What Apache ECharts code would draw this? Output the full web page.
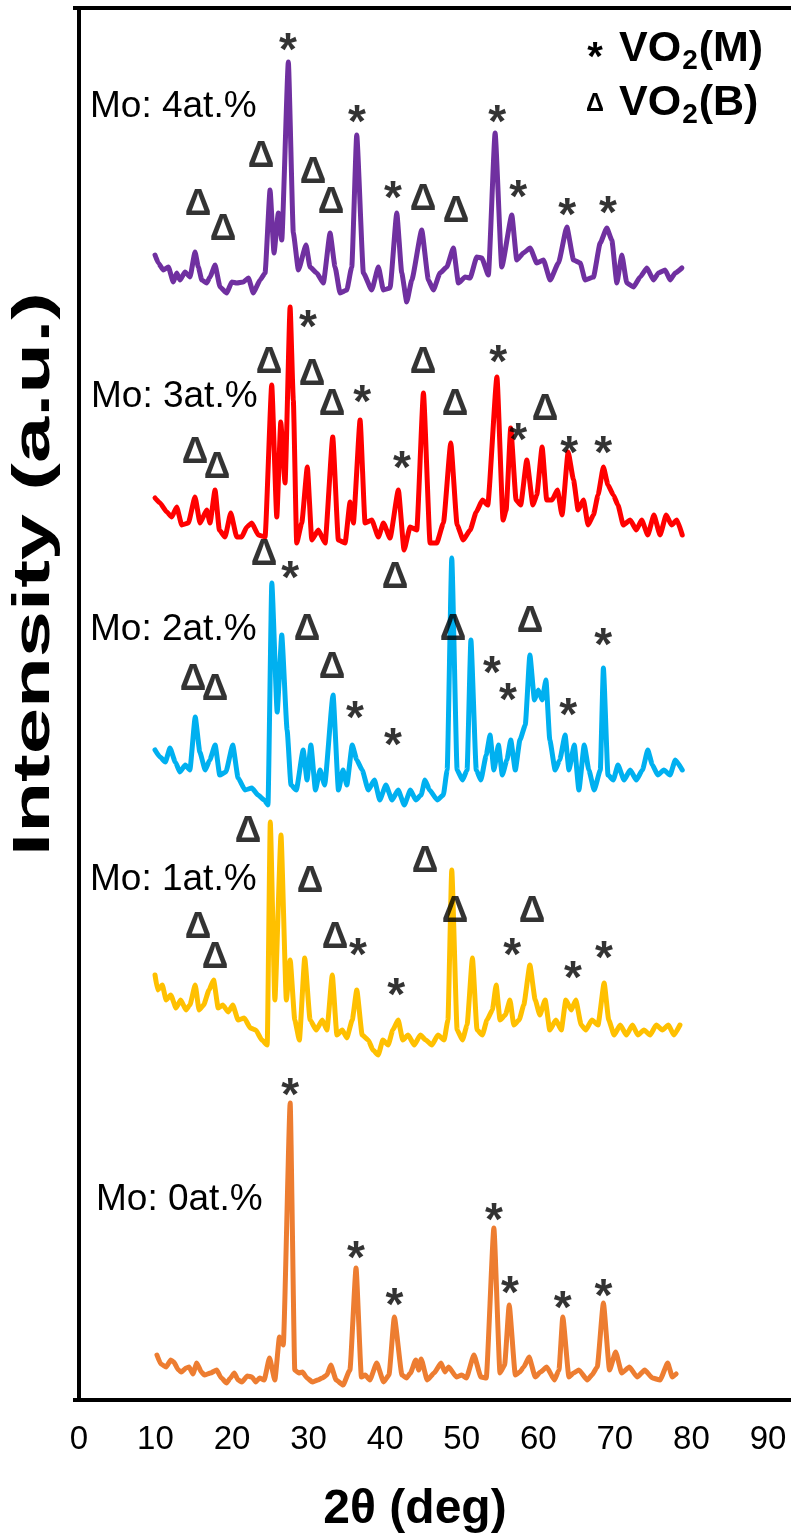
<!DOCTYPE html>
<html>
<head>
<meta charset="utf-8">
<script src="https://cdn.jsdelivr.net/npm/echarts@6/dist/echarts.min.js"></script>
<style>
  html, body { margin: 0; padding: 0; background: #ffffff; }
  #chart { width: 791px; height: 1540px; }
</style>
</head>
<body>
<div id="chart"></div>
<script>
// XRD patterns of Mo-doped VO2 films, stacked with a vertical offset per sample.
// Each pattern: [2θ (deg), intensity above its own baseline (a.u.)]
const mo0 = [[10.2,45],[10.7,36],[11.4,33],[12.0,40],[12.4,38],[13.0,30],[13.4,28],[14.0,32],[14.4,33],[14.9,26],[15.4,37],[16.0,28],[16.4,25],[17.2,27],[18.0,30],[18.6,22],[19.3,17],[19.8,22],[20.3,27],[20.8,20],[21.3,18],[22.0,24],[22.6,23],[23.1,18],[23.6,22],[24.2,20],[24.9,42],[25.6,20],[26.2,63],[26.7,55],[27.6,297],[28.2,30],[28.7,27],[29.2,28],[29.8,22],[30.5,18],[31.2,20],[31.8,22],[32.4,25],[32.9,35],[33.6,20],[34.5,15],[35.4,30],[36.2,132],[36.9,23],[37.4,25],[38.0,20],[38.9,37],[39.8,18],[40.5,25],[41.2,83],[42.2,25],[42.8,22],[43.3,27],[44.0,40],[44.4,30],[44.7,41],[45.5,20],[46.4,27],[47.3,37],[47.8,28],[48.3,33],[49.3,23],[50.0,25],[50.6,22],[51.6,45],[52.5,23],[53.2,22],[54.2,172],[55.0,27],[55.6,35],[56.2,95],[57.0,25],[57.6,28],[58.1,33],[58.8,43],[59.6,23],[60.3,28],[61.1,33],[62.1,20],[62.7,30],[63.2,83],[64.0,23],[64.6,27],[65.3,30],[66.4,20],[67.0,25],[67.7,33],[68.5,97],[69.3,30],[70.1,48],[70.9,27],[71.9,33],[72.9,23],[73.9,30],[74.9,22],[75.9,20],[76.9,37],[77.5,23],[78.0,26]];

const mo1 = [[9.95,75],[10.3,60],[10.9,65],[11.4,50],[12.0,55],[12.7,42],[13.3,50],[14.0,40],[14.5,45],[15.2,65],[15.7,40],[16.3,45],[17.0,60],[17.6,70],[18.2,42],[18.8,45],[19.5,38],[20.1,45],[20.8,30],[21.6,32],[22.4,22],[23.1,20],[23.9,10],[24.6,5],[25.0,228],[25.6,50],[26.4,215],[27.1,50],[27.6,90],[28.2,30],[28.8,10],[29.5,92],[30.2,30],[31.0,20],[31.8,30],[32.4,20],[33.1,75],[33.7,15],[34.4,20],[35.0,12],[35.7,30],[36.3,60],[37.0,15],[37.8,10],[38.4,0],[39.1,-5],[39.7,10],[40.4,5],[41.0,20],[41.7,30],[42.3,10],[43.0,15],[43.8,5],[44.6,15],[45.3,10],[46.1,5],[46.9,15],[47.7,10],[48.2,30],[48.7,180],[49.4,20],[50.1,10],[50.7,25],[51.4,92],[52.0,20],[52.7,15],[53.3,30],[54.0,40],[54.5,65],[55.0,30],[55.7,35],[56.3,50],[56.8,25],[57.5,30],[58.1,45],[58.9,85],[59.6,50],[60.2,35],[60.9,50],[61.5,20],[62.3,30],[63.0,20],[63.6,50],[64.3,40],[64.9,50],[65.6,25],[66.2,20],[67.0,30],[67.8,25],[68.6,67],[69.2,30],[69.9,15],[70.7,25],[71.5,15],[72.3,25],[73.0,15],[73.8,20],[74.6,15],[75.4,25],[76.2,20],[77.0,25],[77.7,15],[78.5,25]];

const mo2 = [[9.95,50],[10.6,43],[11.3,38],[11.9,52],[12.6,38],[13.2,28],[13.9,35],[14.5,30],[15.2,83],[15.8,48],[16.5,30],[17.1,40],[17.8,55],[18.4,25],[19.2,28],[20.1,55],[20.8,22],[21.7,10],[22.6,12],[23.4,5],[24.2,0],[24.7,-5],[25.2,217],[25.9,88],[26.5,165],[27.2,70],[27.7,15],[28.4,10],[29.3,50],[29.8,20],[30.3,55],[30.9,10],[31.5,30],[32.1,15],[33.2,105],[33.9,10],[34.5,30],[35.0,15],[35.7,55],[36.3,40],[37.0,30],[37.8,10],[38.6,20],[39.3,0],[40.1,15],[40.9,0],[41.7,10],[42.5,-5],[43.3,10],[44.0,0],[44.7,5],[45.2,20],[45.8,10],[46.8,0],[47.6,5],[48.1,30],[48.7,242],[49.4,30],[50.1,20],[50.7,30],[51.2,160],[51.9,30],[52.5,20],[53.2,45],[53.7,65],[54.2,30],[54.8,55],[55.3,25],[55.9,40],[56.4,60],[57.0,30],[57.6,60],[58.3,75],[58.9,145],[59.5,100],[60.0,110],[60.5,100],[61.0,120],[61.5,60],[62.2,30],[62.8,40],[63.5,65],[64.0,30],[64.7,55],[65.3,10],[66.0,55],[66.6,30],[67.3,10],[68.1,30],[68.5,132],[69.1,25],[69.8,20],[70.4,35],[71.2,20],[72.0,30],[72.8,20],[73.6,30],[74.3,50],[74.9,35],[75.6,25],[76.4,30],[77.2,25],[77.9,40],[78.8,30]];

const mo3 = [[9.95,52],[10.6,47],[11.48,38],[12.13,33],[12.78,43],[13.44,25],[14.3,27],[15.17,53],[15.83,27],[16.7,40],[17.13,27],[17.79,60],[18.35,20],[19.09,13],[19.84,37],[20.62,13],[21.27,13],[21.93,23],[22.58,27],[23.44,15],[24.32,13],[25.19,165],[25.85,33],[26.37,128],[26.93,67],[27.59,243],[28.01,150],[28.45,7],[29.11,27],[29.84,83],[30.42,10],[31.28,20],[32.16,7],[33.16,113],[33.89,10],[34.77,7],[35.42,48],[35.85,27],[36.73,130],[37.38,27],[38.25,30],[39.12,13],[39.77,27],[40.64,12],[41.73,60],[42.47,0],[43.26,23],[44.13,20],[45.0,157],[45.87,7],[46.74,7],[47.61,27],[48.57,107],[49.4,25],[50.2,10],[51.1,20],[51.9,38],[52.7,50],[53.4,45],[54.6,173],[55.4,30],[55.8,40],[56.4,122],[57.1,50],[57.7,45],[58.5,90],[59.3,45],[59.8,55],[60.5,103],[61.1,50],[61.8,50],[62.5,60],[63.1,35],[63.9,98],[64.6,70],[65.2,40],[65.9,50],[66.5,25],[67.2,35],[67.8,55],[68.5,83],[69.1,65],[69.8,55],[70.4,45],[71.1,25],[72.0,30],[72.8,20],[73.5,30],[74.3,15],[75.1,35],[75.9,15],[76.7,35],[77.4,25],[78.1,30],[78.8,15]];

const mo4 = [[9.95,45],[10.38,37],[11.03,30],[11.69,33],[12.34,18],[12.78,27],[13.21,20],[13.87,28],[14.52,23],[15.17,48],[15.61,33],[16.05,20],[16.70,17],[17.13,23],[17.79,35],[18.44,13],[19.31,7],[19.97,18],[20.62,17],[21.48,18],[22.14,22],[22.79,7],[23.66,20],[24.32,27],[24.97,110],[25.49,47],[26.05,87],[26.50,60],[27.36,238],[28.01,67],[28.67,30],[29.67,55],[30.19,33],[31.07,27],[31.93,17],[32.81,67],[33.46,33],[34.11,7],[34.99,10],[35.64,33],[36.29,165],[37.16,27],[38.25,10],[39.12,33],[39.77,10],[40.64,12],[41.52,87],[42.17,27],[42.82,-2],[43.48,20],[44.78,70],[45.65,20],[46.30,10],[47.17,27],[48.05,33],[48.91,52],[49.57,17],[50.44,23],[51.09,22],[51.97,43],[52.62,42],[53.48,25],[54.36,167],[55.23,33],[56.54,85],[57.19,40],[58.06,47],[58.93,52],[59.81,37],[60.67,40],[61.55,20],[62.63,37],[63.73,73],[64.60,40],[65.47,37],[66.12,20],[67.20,23],[68.08,57],[68.95,72],[69.60,60],[70.26,17],[70.91,45],[71.56,17],[72.43,13],[73.30,23],[74.18,32],[75.04,20],[75.69,27],[76.57,30],[77.22,20],[77.87,27],[78.75,32]];

// Phase markers: [2θ, height above the pattern's baseline, phase]
// 'M' = VO2(M) (asterisk), 'B' = VO2(B) (delta)
const mo0Marks = [[27.6,315,'M'],[36.2,152,'M'],[41.2,105,'M'],[54.2,190,'M'],[56.3,117,'M'],[63.2,102,'M'],[68.5,114,'M']];
const mo1Marks = [[15.57,122,'B'],[17.79,92,'B'],[22.1,218,'B'],[30.2,168,'B'],[33.46,112,'B'],[36.46,105,'M'],[41.43,65,'M'],[45.21,188,'B'],[49.13,138,'B'],[56.58,105,'M'],[59.19,138,'B'],[64.54,82,'M'],[68.59,102,'M']];
const mo2Marks = [[14.9,120,'B'],[17.79,110,'B'],[24.19,245,'B'],[27.59,232,'M'],[29.8,170,'B'],[33.07,132,'B'],[36.07,92,'M'],[41.03,65,'M'],[41.29,222,'B'],[48.87,170,'B'],[53.96,137,'M'],[56.05,110,'M'],[58.93,178,'B'],[63.89,95,'M'],[68.46,165,'M']];
const mo3Marks = [[15.17,97,'B'],[18.05,82,'B'],[24.84,187,'B'],[29.93,233,'M'],[30.45,175,'B'],[33.07,145,'B'],[36.99,158,'M'],[42.21,92,'M'],[44.95,187,'B'],[49.13,145,'B'],[54.75,198,'M'],[57.36,120,'M'],[60.89,140,'B'],[64.02,107,'M'],[68.46,107,'M']];
const mo4Marks = [[15.57,95,'B'],[18.84,70,'B'],[23.80,143,'B'],[27.31,260,'M'],[30.58,127,'B'],[32.93,97,'B'],[36.33,188,'M'],[41.03,112,'M'],[44.95,100,'B'],[49.26,88,'B'],[54.62,188,'M'],[57.36,113,'M'],[63.76,95,'M'],[69.11,97,'M']];

const sampleNames = ['Mo: 0at.%', 'Mo: 1at.%', 'Mo: 2at.%', 'Mo: 3at.%', 'Mo: 4at.%'];
const sampleOffsets = [0, 350, 600, 850, 1100];
const xTickValues = [0, 10, 20, 30, 40, 50, 60, 70, 80, 90];

const patterns = [mo0, mo1, mo2, mo3, mo4];
const marks = [mo0Marks, mo1Marks, mo2Marks, mo3Marks, mo4Marks];
const colors = ['#ED7D31', '#FFC000', '#00B0F0', '#FF0000', '#7030A0'];
const labelY = [1200, 880, 630, 397, 107];
const labelX = [96, 90, 90, 91, 90];

const FONT = '"Liberation Sans", Arial, Helvetica, sans-serif';
const FRAME = { color: '#000', width: 4, cap: 'square' };

const chart = echarts.init(document.getElementById('chart'), null, { renderer: 'canvas' });

const lineSeries = patterns.map((p, i) => ({
  name: sampleNames[i],
  type: 'line',
  data: p.map(d => [d[0], d[1] + sampleOffsets[i]]),
  showSymbol: false,
  smooth: 0.15,
  smoothMonotone: 'x',
  lineStyle: { color: colors[i], width: 5, cap: 'round', join: 'round' },
  z: 2 + i,
  silent: true
}));

const markItems = [];
marks.forEach((list, i) => {
  list.forEach(m => {
    const isM = m[2] === 'M';
    markItems.push({
      value: [m[0], m[1] + sampleOffsets[i]],
      label: isM
        ? { formatter: '*', fontSize: 46, fontWeight: 'bold', offset: [0, 12] }
        : { formatter: 'Δ', fontSize: 37, fontWeight: 'bold', offset: [0, 0] }
    });
  });
});

const markSeries = {
  name: 'phases',
  type: 'scatter',
  data: markItems,
  symbol: 'circle',
  symbolSize: 1,
  itemStyle: { color: 'rgba(0,0,0,0)' },
  label: {
    show: true,
    position: 'inside',
    color: '#000',
    fontFamily: FONT
  },
  z: 20,
  silent: true
};

function textWidth(str, font) {
  const ctx = document.createElement('canvas').getContext('2d');
  ctx.font = font;
  return ctx.measureText(str).width;
}

// Phase key: "* VO2(M)" and "Δ VO2(B)" with a subscript 2
function formulaKey(symbol, symbolStyle, tail, y) {
  const mainFont = 'bold 43px ' + FONT;
  const subFont = 'bold 28px ' + FONT;
  const x0 = 619;
  const wVO = textWidth('VO', mainFont);
  const w2 = textWidth('2', subFont);
  return [
    { type: 'text', x: 595, y: y + symbolStyle.dy, style: { text: symbol, font: symbolStyle.font, fill: '#000', align: 'center', verticalAlign: 'middle' } },
    { type: 'text', x: x0, y: y, style: { text: 'VO', font: mainFont, fill: '#000', align: 'left', verticalAlign: 'middle' } },
    { type: 'text', x: x0 + wVO + 1, y: y + 12, style: { text: '2', font: subFont, fill: '#000', align: 'left', verticalAlign: 'middle' } },
    { type: 'text', x: x0 + wVO + w2 + 2, y: y, style: { text: tail, font: mainFont, fill: '#000', align: 'left', verticalAlign: 'middle' } }
  ];
}

const graphics = [];
sampleNames.forEach((name, i) => {
  graphics.push({
    type: 'text', x: labelX[i], y: labelY[i],
    style: { text: name, font: '37px ' + FONT, fill: '#000', align: 'left', verticalAlign: 'middle' },
    z: 30
  });
});
// Y-axis title, set in an elongated bold face along its reading direction
graphics.push({
  type: 'text', x: 35, y: 574, rotation: Math.PI / 2, scaleX: 1.6, scaleY: 1,
  style: { text: 'Intensity (a.u.)', font: 'bold 52px ' + FONT, fill: '#000', align: 'center', verticalAlign: 'middle' }
});
graphics.push({
  type: 'text', x: 415, y: 1510,
  style: { text: '2θ (deg)', font: 'bold 48px ' + FONT, fill: '#000', align: 'center', verticalAlign: 'middle' }
});
formulaKey('*', { font: 'bold 40px ' + FONT, dy: 10 }, '(M)', 49).forEach(g => graphics.push(g));
formulaKey('Δ', { font: 'bold 25px ' + FONT, dy: 1 }, '(B)', 103).forEach(g => graphics.push(g));

chart.setOption({
  animation: false,
  backgroundColor: '#ffffff',
  grid: { left: 75, top: 8, right: 0, bottom: 140 },
  xAxis: [
    {
      type: 'value',
      position: 'bottom',
      min: -0.5,
      max: 93.0,
      axisLine: { show: true, lineStyle: FRAME },
      axisTick: { show: false },
      splitLine: { show: false },
      axisLabel: {
        customValues: xTickValues,
        color: '#000',
        fontSize: 33,
        fontFamily: FONT,
        margin: 23
      }
    },
    {
      type: 'value',
      position: 'top',
      min: -0.5,
      max: 93.0,
      axisLine: { show: true, lineStyle: FRAME },
      axisTick: { show: false },
      splitLine: { show: false },
      axisLabel: { show: false }
    }
  ],
  yAxis: {
    type: 'value',
    min: 0,
    max: 1392,
    axisLine: { show: true, lineStyle: FRAME },
    axisTick: { show: false },
    splitLine: { show: false },
    axisLabel: { show: false }
  },
  series: [...lineSeries, markSeries],
  graphic: graphics
});
</script>
</body>
</html>
